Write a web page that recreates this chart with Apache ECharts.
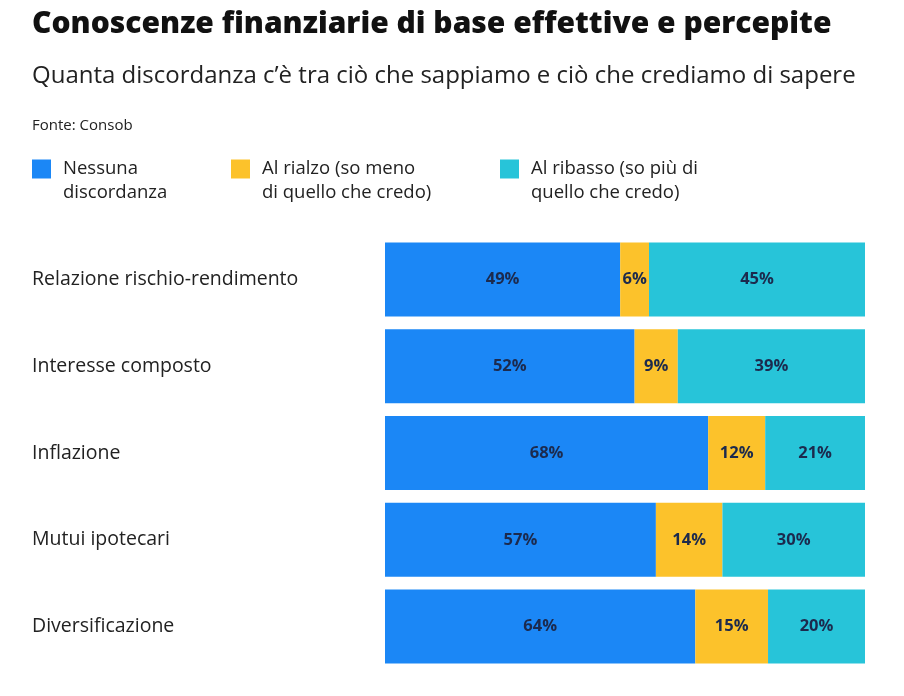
<!DOCTYPE html>
<html><head><meta charset="utf-8">
<script src="https://cdn.jsdelivr.net/npm/echarts@6/dist/echarts.min.js"></script>
<style>html,body{margin:0;padding:0;background:#fff}#c{width:904px;height:696px}</style>
</head><body><div id="c"></div>
<script>
const categories = ['Relazione rischio-rendimento','Interesse composto','Inflazione','Mutui ipotecari','Diversificazione'];
const seriesNames = ['Nessuna\ndiscordanza','Al rialzo (so meno\ndi quello che credo)','Al ribasso (so più di\nquello che credo)'];
const nessuna = [49,52,68,57,64];
const rialzo = [6,9,12,14,15];
const ribasso = [45,39,21,30,20];
const colors = ['#1b87f6','#fcc22b','#27c4d9'];

const raw = [nessuna, rialzo, ribasso];
const sums = categories.map((_, i) => raw.reduce((s, a) => s + a[i], 0));
const FONT = 'Open Sans';

const chart = echarts.init(document.getElementById('c'));
const series = raw.map((arr, k) => ({
  name: seriesNames[k],
  type: 'bar',
  stack: 'tot',
  barWidth: 74,
  itemStyle: {color: colors[k]},
  data: arr.map((v, i) => ({value: v / sums[i] * 100, raw: v})),
  label: {
    show: true, position: 'inside',
    formatter: p => p.data.raw + '%',
    color: '#1c2a4d', fontSize: 16.5, fontWeight: 'bold', fontFamily: FONT
  }
}));
const legendLefts = [32, 231, 500];
chart.setOption({
  animation: false,
  textStyle: {fontFamily: FONT},
  title: [
    {text: 'Conoscenze finanziarie di base effettive e percepite', left: 32, top: 9, padding: 0,
     textStyle: {fontSize: 30, fontWeight: 800, color: '#111', fontFamily: FONT}},
    {text: 'Quanta discordanza c\u2019è tra ciò che sappiamo e ciò che crediamo di sapere', left: 32, top: 64, padding: 0,
     textStyle: {fontSize: 24, fontWeight: 'normal', color: '#222', fontFamily: FONT}},
    {text: 'Fonte: Consob', left: 32, top: 118, padding: 0,
     textStyle: {fontSize: 15, fontWeight: 'normal', color: '#222', fontFamily: FONT}}
  ],
  legend: seriesNames.map((n, k) => ({
    data: [n], left: legendLefts[k], top: 133, padding: 0, itemWidth: 19, itemHeight: 19,
    icon: 'rect', selectedMode: false,
    formatter: name => '\u00a0\n' + name,
    textStyle: {fontSize: 18.5, color: '#222', lineHeight: 24, padding: [0, 0, 0, 7], fontFamily: FONT}
  })),
  grid: {left: 385, right: 39, top: 236, bottom: 26},
  xAxis: {type: 'value', min: 0, max: 100, show: false},
  yAxis: {
    type: 'category', data: categories, inverse: true,
    axisLine: {show: false}, axisTick: {show: false},
    axisLabel: {align: 'left', margin: 353, fontSize: 19.5, color: '#222', fontFamily: FONT}
  },
  series
});
</script></body></html>
